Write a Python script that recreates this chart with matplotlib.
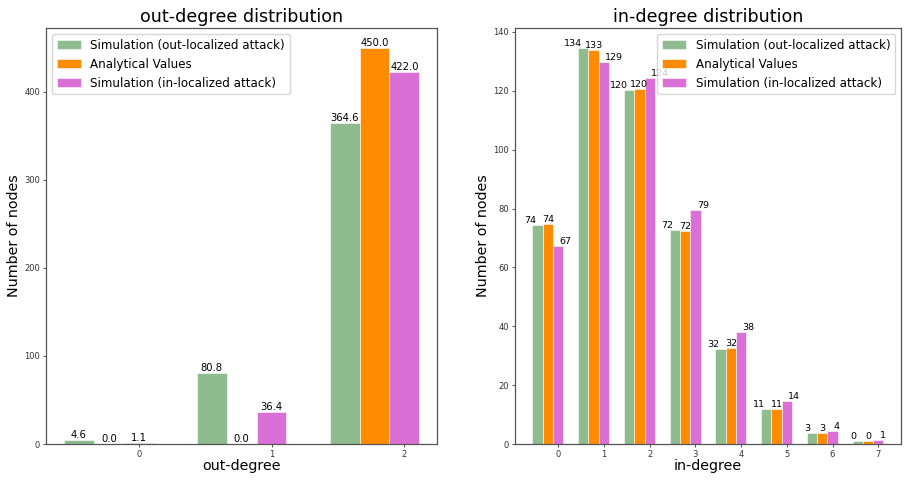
import matplotlib
matplotlib.use("Agg")
import matplotlib.pyplot as plt
import numpy as np

# out-degree data
out_degree = [0, 1, 2]
out_sim_out = [4.6, 80.8, 364.6]
out_analytical = [0.0, 0.0, 450.0]
out_sim_in = [1.1, 36.4, 422.0]

# in-degree data
in_degree = [0, 1, 2, 3, 4, 5, 6, 7]
in_sim_out = [74.3, 134.6, 120.2, 72.6, 32.3, 11.9, 3.6, 0.9]
in_analytical = [74.7, 133.9, 120.5, 72.2, 32.7, 11.8, 3.6, 0.9]
in_sim_in = [67.4, 129.9, 124.2, 79.6, 38.2, 14.6, 4.4, 1.3]

names = ['Simulation (out-localized attack)', 'Analytical Values',
         'Simulation (in-localized attack)']
colors = ['darkseagreen', 'darkorange', 'orchid']
width = 0.225

fig = plt.figure(figsize=(9.05, 4.8), dpi=100)
ax1 = fig.add_axes([0.051, 0.075, 0.432, 0.8667])
ax2 = fig.add_axes([0.569, 0.075, 0.4265, 0.8667])


def style(ax):
    for s in ax.spines.values():
        s.set_color('#555555')
        s.set_linewidth(0.9)
    ax.tick_params(labelsize=6, length=2.5, width=0.6, colors='#333333', pad=2)


# -------- left: out-degree
ind = np.arange(len(out_degree))
series = [out_sim_out, out_analytical, out_sim_in]
for k, vals in enumerate(series):
    rects = ax1.bar(ind - (2 - k) * width, vals, width, color=colors[k],
                    edgecolor='white', linewidth=0.4, label=names[k])
    for r in rects:
        h = r.get_height()
        ax1.annotate('{:.1f}'.format(h), xy=(r.get_x() + r.get_width() / 2, h),
                     xytext=(0, 0), textcoords='offset points',
                     ha='center', va='bottom', fontsize=7.2)
ax1.set_xticks(ind)
ax1.set_xticklabels([str(d) for d in out_degree])
ax1.set_title('out-degree distribution', fontsize=12.6, pad=4)
ax1.set_xlabel('out-degree', fontsize=10.3, labelpad=0)
ax1.set_ylabel('Number of nodes', fontsize=10.3, labelpad=2)
ax1.legend(loc='upper left', fontsize=8.6)
style(ax1)

# -------- right: in-degree
ind = np.arange(len(in_degree))
series = [in_sim_out, in_analytical, in_sim_in]
has = ['right', 'center', 'left']
offs = [-1, 0, 1]
for k, vals in enumerate(series):
    rects = ax2.bar(ind - (2 - k) * width, vals, width, color=colors[k],
                    edgecolor='white', linewidth=0.4, label=names[k])
    for r in rects:
        h = r.get_height()
        ax2.annotate('{}'.format(int(h)), xy=(r.get_x() + r.get_width() / 2, h),
                     xytext=(offs[k], 0), textcoords='offset points',
                     ha=has[k], va='bottom', fontsize=6.8)
ax2.set_xticks(ind)
ax2.set_xticklabels([str(d) for d in in_degree])
ax2.set_title('in-degree distribution', fontsize=12.6, pad=4)
ax2.set_xlabel('in-degree', fontsize=10.3, labelpad=0)
ax2.set_ylabel('Number of nodes', fontsize=10.3, labelpad=2)
ax2.legend(loc='upper right', fontsize=8.6)
style(ax2)

plt.savefig('out.png', dpi=100)
